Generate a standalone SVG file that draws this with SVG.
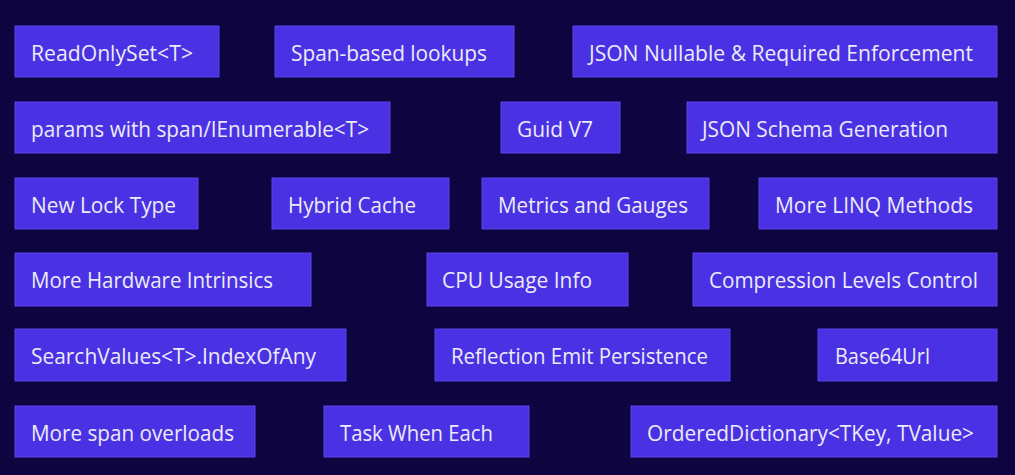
<svg xmlns="http://www.w3.org/2000/svg" width="1015" height="475" viewBox="0 0 1015 475">
<style>
.bg{fill:#0d0440}
.box{fill:#4a31e3;stroke:#5a45ea;stroke-width:1}
.t{font-family:"Open Sans","Noto Sans","Liberation Sans",sans-serif;font-size:21px;fill:#ecebf7}
</style>
<rect class="bg" x="0" y="0" width="1015" height="475"/>
<g id="connectors"/>
<g id="n1"><rect class="box" x="15" y="26" width="204" height="51"/><text class="t" x="31" y="61" textLength="162" lengthAdjust="spacingAndGlyphs">ReadOnlySet&lt;T&gt;</text></g>
<g id="n2"><rect class="box" x="275" y="26" width="239" height="51"/><text class="t" x="291" y="61" textLength="196" lengthAdjust="spacingAndGlyphs">Span-based lookups</text></g>
<g id="n3"><rect class="box" x="573" y="26" width="424" height="51"/><text class="t" x="589" y="61" textLength="384" lengthAdjust="spacingAndGlyphs">JSON Nullable &amp; Required Enforcement</text></g>
<g id="n4"><rect class="box" x="15" y="102" width="375" height="51"/><text class="t" x="31" y="137" textLength="338" lengthAdjust="spacingAndGlyphs">params with span/IEnumerable&lt;T&gt;</text></g>
<g id="n5"><rect class="box" x="501" y="102" width="119" height="51"/><text class="t" x="517" y="137" textLength="76" lengthAdjust="spacingAndGlyphs">Guid V7</text></g>
<g id="n6"><rect class="box" x="687" y="102" width="310" height="51"/><text class="t" x="702" y="137" textLength="246" lengthAdjust="spacingAndGlyphs">JSON Schema Generation</text></g>
<g id="n7"><rect class="box" x="15" y="178" width="183" height="51"/><text class="t" x="31" y="213" textLength="145" lengthAdjust="spacingAndGlyphs">New Lock Type</text></g>
<g id="n8"><rect class="box" x="272" y="178" width="177" height="51"/><text class="t" x="288" y="213" textLength="128" lengthAdjust="spacingAndGlyphs">Hybrid Cache</text></g>
<g id="n9"><rect class="box" x="482" y="178" width="227" height="51"/><text class="t" x="498" y="213" textLength="190" lengthAdjust="spacingAndGlyphs">Metrics and Gauges</text></g>
<g id="n10"><rect class="box" x="759" y="178" width="238" height="51"/><text class="t" x="775" y="213" textLength="198" lengthAdjust="spacingAndGlyphs">More LINQ Methods</text></g>
<g id="n11"><rect class="box" x="15" y="253" width="296" height="53"/><text class="t" x="31" y="288" textLength="242" lengthAdjust="spacingAndGlyphs">More Hardware Intrinsics</text></g>
<g id="n12"><rect class="box" x="427" y="253" width="201" height="53"/><text class="t" x="442" y="288" textLength="150" lengthAdjust="spacingAndGlyphs">CPU Usage Info</text></g>
<g id="n13"><rect class="box" x="693" y="253" width="304" height="53"/><text class="t" x="709" y="288" textLength="269" lengthAdjust="spacingAndGlyphs">Compression Levels Control</text></g>
<g id="n14"><rect class="box" x="15" y="329" width="331" height="52"/><text class="t" x="31" y="364" textLength="285" lengthAdjust="spacingAndGlyphs">SearchValues&lt;T&gt;.IndexOfAny</text></g>
<g id="n15"><rect class="box" x="435" y="329" width="295" height="52"/><text class="t" x="451" y="364" textLength="257" lengthAdjust="spacingAndGlyphs">Reflection Emit Persistence</text></g>
<g id="n16"><rect class="box" x="818" y="329" width="179" height="52"/><text class="t" x="835" y="364" textLength="95" lengthAdjust="spacingAndGlyphs">Base64Url</text></g>
<g id="n17"><rect class="box" x="15" y="406" width="240" height="51"/><text class="t" x="31" y="441" textLength="203" lengthAdjust="spacingAndGlyphs">More span overloads</text></g>
<g id="n18"><rect class="box" x="324" y="406" width="205" height="51"/><text class="t" x="340" y="441" textLength="153" lengthAdjust="spacingAndGlyphs">Task When Each</text></g>
<g id="n19"><rect class="box" x="631" y="406" width="366" height="51"/><text class="t" x="647" y="441" textLength="327" lengthAdjust="spacingAndGlyphs">OrderedDictionary&lt;TKey, TValue&gt;</text></g>
</svg>
